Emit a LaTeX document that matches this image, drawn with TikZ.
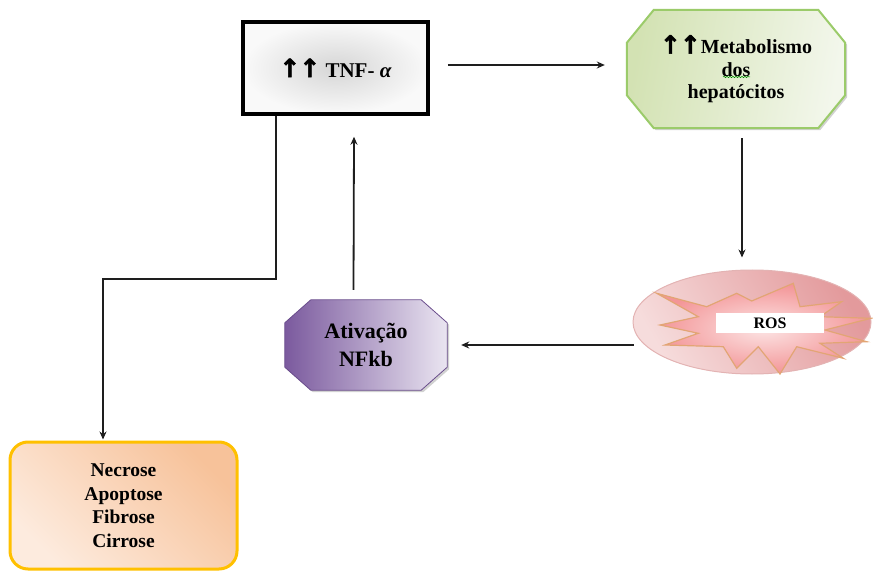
\documentclass[tikz,border=0pt]{standalone}
\usepackage{fontspec}
\setmainfont{Liberation Serif}
\newfontfamily\arrowfont[FakeBold=2]{DejaVu Sans}
\usetikzlibrary{shapes.geometric,arrows.meta,calc,decorations.pathmorphing,backgrounds}
\definecolor{tnfin}{HTML}{D6D6D6}
\definecolor{tnfout}{HTML}{F9F9F9}
\definecolor{metaline}{HTML}{9BCB6A}
\definecolor{metaleft}{HTML}{D3E2B3}
\definecolor{metaright}{HTML}{F3F7EC}
\definecolor{rosline}{HTML}{E3B3B3}
\definecolor{rosdark}{HTML}{E39A9C}
\definecolor{roslight}{HTML}{F6DCDC}
\definecolor{starin}{HTML}{FCE4E4}
\definecolor{starout}{HTML}{F39597}
\definecolor{starline}{HTML}{E2A574}
\definecolor{nfleft}{HTML}{7B5A9E}
\definecolor{nfright}{HTML}{EAE5F1}
\definecolor{nfline}{HTML}{6A4D8C}
\definecolor{outline}{HTML}{FFC000}
\definecolor{outdark}{HTML}{F7C29A}
\definecolor{outlight}{HTML}{FDEBDE}
\definecolor{arrcol}{HTML}{1E1E1E}
\newcommand{\upar}{{\arrowfont\bfseries\fontsize{25}{22}\selectfont ↑\kern-1pt↑}}
% octagon around a rectangular node: node, corner x cut, corner y cut, options
\newcommand{\drawoct}[4]{%
  \path[#4] ($(#1.north west)+(#2,0)$) -- ($(#1.north east)+(-#2,0)$)
    -- ($(#1.north east)+(0,#3)$) -- ($(#1.south east)+(0,-#3)$)
    -- ($(#1.south east)+(-#2,0)$) -- ($(#1.south west)+(#2,0)$)
    -- ($(#1.south west)+(0,-#3)$) -- ($(#1.north west)+(0,#3)$) -- cycle;}
\tikzset{
  arr/.style={draw=arrcol, line width=1.8pt, -{Stealth[length=8pt,width=7pt]}},
  lbl/.style={font=\bfseries, align=center, text=black},
  tnfbox/.style={rectangle, draw=black, line width=3.5pt, inner color=tnfin, outer color=tnfout,
    minimum width=185pt, minimum height=92pt, lbl, font=\bfseries\fontsize{21}{24}\selectfont},
  octnode/.style={rectangle, lbl, inner sep=0pt},
  metanode/.style={octnode, minimum width=218pt, minimum height=118pt,
    font=\bfseries\fontsize{20}{22.5}\selectfont},
  metafill/.style={draw=metaline, line width=2pt, left color=metaleft, right color=metaright, shading angle=80},
  nfnode/.style={octnode, minimum width=162pt, minimum height=90pt,
    font=\bfseries\fontsize{22}{28}\selectfont},
  nffill/.style={draw=nfline, line width=0.8pt, left color=nfleft, right color=nfright},
  octshadow/.style={fill=black, opacity=0.18, transform canvas={shift={(2pt,-2pt)}}},
  rosell/.style={ellipse, draw=rosline, line width=1pt, left color=roslight, right color=rosdark,
    shading angle=120, minimum width=238pt, minimum height=104pt, inner sep=0pt},
  starfill/.style={draw=starline, line width=1.2pt, inner color=starin, outer color=starout, line join=miter},
  roslabel/.style={rectangle, fill=white, minimum width=108pt, minimum height=20pt, inner sep=0pt,
    lbl, font=\bfseries\fontsize{16}{18}\selectfont},
  outbox/.style={rectangle, rounded corners=18pt, draw=outline, line width=3pt,
    left color=outlight, right color=outdark, shading angle=135,
    minimum width=227pt, minimum height=127pt, lbl, font=\bfseries\fontsize{19.5}{23.5}\selectfont},
}
\begin{document}
\begin{tikzpicture}[x=1pt,y=-1pt]
\useasboundingbox (0,0) rectangle (873,572);
% nodes
\node[tnfbox] (tnf) at (335.5,68) {\upar{} TNF- \textit{α}};
\node[metanode] (meta) at (736,69) {\upar{}Metabolismo\\dos\\hepatócitos};
\begin{scope}[on background layer]
  \drawoct{meta}{27}{33}{octshadow}
  \drawoct{meta}{27}{33}{metafill}
\end{scope}
\draw[green!55!black, line width=0.5pt, decorate, decoration={snake, amplitude=0.7pt, segment length=3pt}]
  ($(meta.center)+(-13,8)$) -- ($(meta.center)+(14,8)$);
\node[rosell] (ros) at (752,322) {};
\path[starfill] (656.7,293.3) -- (706.7,306.7) -- (736.7,293.3) -- (751.7,301) -- (793.3,283.3)
  -- (800,306.7) -- (841.7,301.7) -- (820,316.7) -- (871,318.3) -- (825,330) -- (866.7,341.7)
  -- (820,343.3) -- (843.3,358.3) -- (796.7,346.7) -- (780,374) -- (758.3,346.7) -- (736.7,368.3)
  -- (723.3,346.7) -- (665,345) -- (698.3,333.3) -- (660,325) -- (698.3,316.7) -- cycle;
\node[roslabel] (roslbl) at (770,323) {ROS};
\node[nfnode] (nfkb) at (366,345) {Ativação\\NFkb};
\begin{scope}[on background layer]
  \drawoct{nfkb}{26}{23}{octshadow}
  \drawoct{nfkb}{26}{23}{nffill}
\end{scope}
\node[outbox] (out) at (123.5,505.5) {Necrose\\Apoptose\\Fibrose\\Cirrose};
% connectors
\draw[arr] ([xshift=18pt,yshift=3pt]tnf.east) -- ($(meta.west |- tnf.east)+(-22,-3)$);
\draw[arr] ($(meta.south)+(6,10)$) -- ($(ros.north)+(-10,-12)$);
\draw[arr] ($(ros.west |- nfkb.east)+(1,0)$) -- ($(nfkb.east)+(14,0)$);
\draw[arr] ($(nfkb.north)+(-12.5,-10)$) -- ($(tnf.south)+(18.5,21)$);
\draw[arr] ($(tnf.south)+(-59.5,0)$) -- ++(0,163) -| ($(out.north)+(-20.5,-1)$);
\end{tikzpicture}
\end{document}
